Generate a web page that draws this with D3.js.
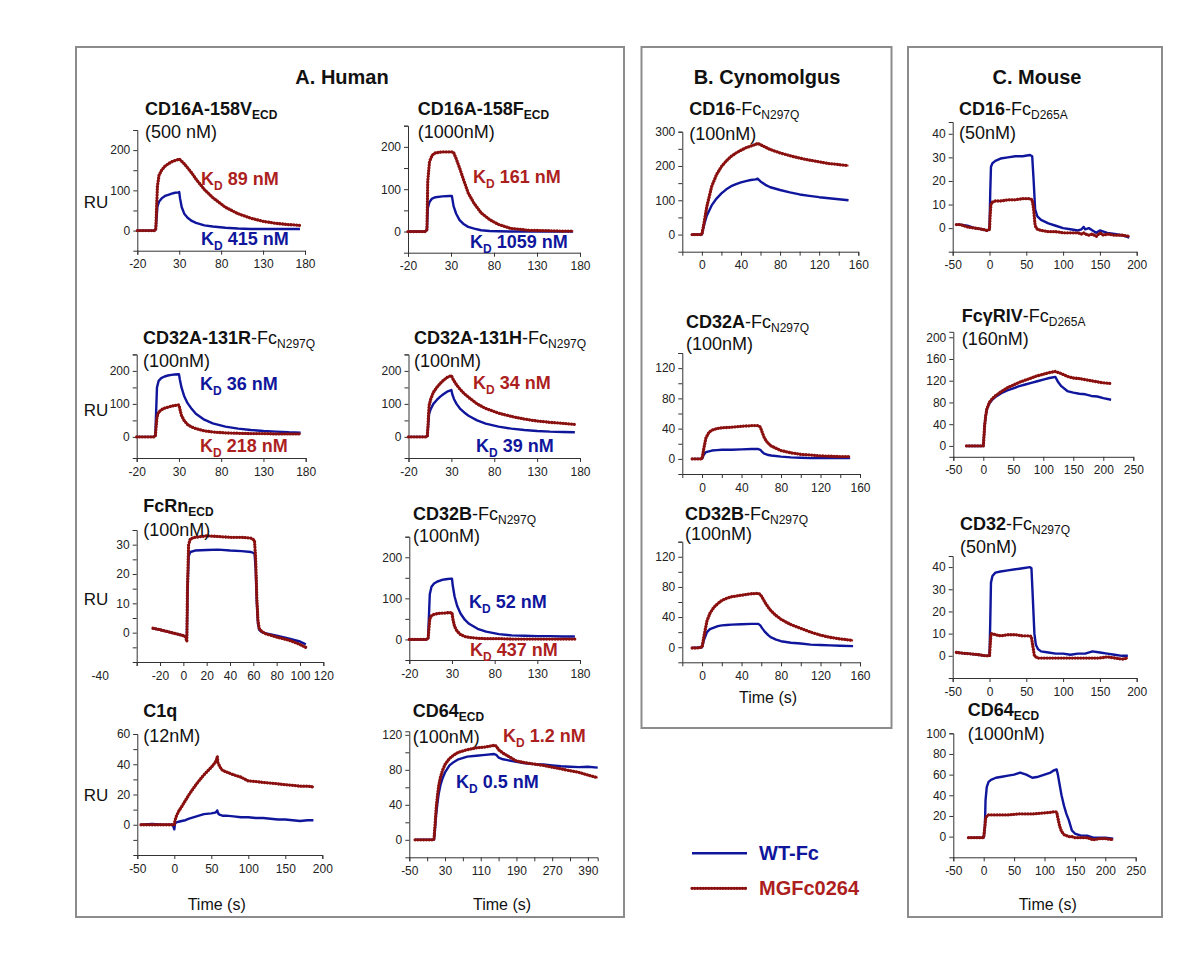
<!DOCTYPE html>
<html><head><meta charset="utf-8">
<script src="https://cdn.jsdelivr.net/npm/d3@7"></script>
<style>
body{margin:0;background:#fff;}
svg text{font-family:'Liberation Sans',Arial,Helvetica,sans-serif;}
</style>
</head><body>
<svg id="c" width="1200" height="960"></svg>
<script>
// ---------------- DATA (time in s, response in RU) ----------------
// A. Human
const tA1 = [-20,-10,0,2,4,6,9,13,17,21,25,29,30,31,33,36,40,45,50,60,70,85,100,115,130,145,160,174];
const wtA1 = [0,0,0,2,60,72,80,86,89,92,94,95,96,80,58,42,32,24,19,13,10,7,5,4,4,4,4,4];
const mgA1 = [0,0,0,2,110,138,150,160,166,171,174,177,178,176,172,166,156,143,128,102,82,58,42,31,23,18,15,13];

const tA2 = [-20,-10,0,2,3,5,8,12,20,28,31,33,36,40,45,50,57,65,75,85,100,120,140,160,172];
const wtA2 = [0,0,0,3,55,70,78,81,83,84,84,60,42,27,17,11,7,3,1.4,0.8,0,0,0,0,0];
const mgA2 = [0,0,0,5,120,165,180,186,188,188,188,187,172,150,120,91,66,44,28,17,7,3,2,1,1];

const tA3 = [-20,-10,0,2,4,6,9,13,17,21,25,29,30,31,33,36,40,45,50,60,70,85,100,115,130,145,160,174];
const wtA3 = [0,0,0,3,150,170,178,183,186,188,189,190,190,175,150,125,103,85,70,52,41,31,25,21,18,16,14,13];
const mgA3 = [0,0,0,2,60,75,82,87,90,93,95,97,97,85,65,50,38,30,25,18,15,12,11,10,10,9,9,9];

const tA4 = [-20,-10,0,2,4,6,9,13,17,21,25,29,30,31,33,36,40,45,50,60,70,85,100,115,130,145,160,174];
const wtA4 = [0,0,0,2,70,85,100,112,122,130,137,141,142,130,115,100,86,74,64,50,40,31,25,21,18,16,15,14];
const mgA4 = [0,0,0,2,95,115,135,150,162,172,180,185,186,180,170,158,145,131,120,100,86,72,62,54,48,44,41,38];

const tA5 = [-26,-20,-10,0,2,3,3.5,4.5,6,10,20,30,40,50,58,61,62,63,64,65,67,70,80,90,100,105];
const wtA5 = [1.5,1,0,-1,-1.5,-2,12,26,27.5,28,28.2,28.3,28,27.8,27.5,27,22,10,3,1,0.3,-0.2,-1,-2,-3,-4];
const mgA5 = [1.5,1,0,-1,-1.5,-3,15,30,32,32.5,33,32.8,32.5,32.5,32.2,31.5,25,12,4,1.5,0.5,-0.3,-1.5,-2.5,-4,-5];

const tA6 = [-20,-10,0,2,4,6,9,13,17,21,25,29,30,31,33,36,40,45,50,60,70,85,100,115,130,145,160,174];
const wtA6 = [0,0,0,3,110,128,136,141,144,146,147,148,148,130,105,82,63,48,38,26,19,13,10,9,8,8,7,7];
const mgA6 = [0,0,0,2,50,58,61,63,64,64,65,65,65,50,32,20,12,7,5,3,2,2,1,1,1,1,1,1];

const tA7 = [-45,-30,-15,-2,0,1,3,6,10,15,20,30,40,50,55,57,58,59,60,62,65,70,80,90,100,110,120,130,140,150,160,170,180,188];
const wtA7 = [0,0.5,0,0,-3,1,1.5,2,2.5,3,4,5.5,7,7.5,8,8.5,9.5,8,7,6.5,6,6,5.5,5,5,4.5,4.5,4,3.5,3.5,3,2.5,3,3];
const mgA7 = [0,0,0,0,0,3,6,9,12,16,20,27,33,38,41,43,45,41,40,38,36,35,33,31.5,29,28.5,28,27.5,27,26.5,26,25.5,25.5,25];

const tA8 = [-37,-20,0,5,6,8,10,13,16,20,25,30,40,50,60,80,100,120,140,145,150,160,170,190,210,230,250,270,290,310,330,350,372];
const wtA8 = [0,0,0,0,3,15,28,42,53,63,71,77,85,89,92,95,96,97,98,97,94,92,91,89,87.5,86.5,86,85,84,83.5,83,83.5,82.5];
const mgA8 = [0,0,0,0,5,20,35,50,62,72,80,86,93,97,100,103,105,106,108,107,103,99,96,90,88,86.5,85,83,81,79,77,74,71];

// B. Cynomolgus
const tB1 = [-10,-5,0,2,5,10,15,20,25,30,35,40,45,50,55,57,60,65,70,80,90,100,110,120,130,140,150];
const wtB1 = [0,0,0,25,55,85,105,120,132,141,147,152,156,159,161,163,155,145,138,130,123,117,113,109,106,103,100];
const mgB1 = [0,0,0,30,80,140,175,198,215,228,238,246,253,258,263,266,262,255,248,238,230,223,217,212,207,204,201];

const tB2 = [-10,-5,0,2,4,7,10,15,20,30,40,50,57,59,61,63,66,70,80,90,100,110,120,130,140,150];
const wtB2 = [0,0,0,6,9,10,11,11.5,12,12,12.5,13,13,12,9,7,5.5,4.5,3,2,1.5,1,1,1,1,1];
const mgB2 = [0,0,0,15,28,35,38,40,41,42,43,44,44,42,35,28,22,17,11,8,6,5,4,3.5,3,3];

const tB3 = [-10,-5,0,2,5,8,12,16,20,25,30,40,50,57,59,61,64,67,70,75,80,90,100,110,120,130,140,153];
const wtB3 = [-0.5,-0.5,0,10,20,24,26,28,29,29.5,30,30.5,31,31,29,25,20,16,13,10,8,6,5,3.5,3,2.5,2,1.5];
const mgB3 = [-1,-1,0,15,35,45,53,58,62,65,67,69,71,71.5,70,66,59,53,48,42,37,30,25,20,16,13,11,9];

// C. Mouse
const tC1 = [-45,-40,-30,-20,-10,-3,0,1,2,4,8,15,25,35,45,55,58,60,62,65,70,80,90,100,110,120,125,128,130,135,140,145,150,155,160,170,180,190];
const wtC1 = [1.5,1.5,1,0,-0.5,-1,-0.5,15,26,27.5,28.5,29.5,30,30.5,30.5,31,30.5,20,8,5,3.5,2,1,0,-0.5,-1,-0.5,0.5,-0.5,0,-1,-2,-1,-1.5,-2,-2.5,-3,-4];
const mgC1 = [1.5,1.5,0.5,0,-0.5,-1,-0.5,6,10,11,11.5,11.5,12,12,12.5,12.5,12,8,1,-0.5,-1,-1.5,-1.5,-2,-2,-2,-2.5,-2,-2.5,-3,-2.5,-3.5,-2,-3,-2.5,-3,-3,-3.5];

const tC2 = [-28,-15,-2,0,1,2,4,6,10,15,20,30,40,50,60,70,80,90,100,110,115,120,125,130,140,150,160,170,180,190,200,213];
const wtC2 = [0,0,0,0,15,35,55,68,78,85,90,97,102,106,110,113,116,119,122,125,126,127,117,110,101,98,96,95,92,91,88,85];
const mgC2 = [0,0,0,0,15,35,55,68,80,87,92,100,107,112,117,121,125,129,132,135,136,137,135,133,128,125,124,122,120,118,116,115];

const tC3 = [-45,-30,-15,-5,0,1,2,4,8,15,25,35,45,55,57,59,61,63,66,70,80,90,100,110,120,130,140,150,160,170,180,188];
const wtC3 = [1.5,1,0.5,0,0,15,33,36,37.5,38,38.5,39,39.5,40,39.5,25,10,5,3,2,1.5,1,1,0.5,1,1,2,1.5,1,0.5,0,0];
const mgC3 = [1.5,1,0.5,0,0,5,10,10,9.5,9,9.5,9.5,9,9,8.5,4,0,-0.5,-1,-1,-1,-1,-1,-1,-1,-1,-1,-1,-0.5,-1,-1.5,-1];

const tC4 = [-25,-10,0,2,3,5,8,12,20,30,40,50,60,70,80,90,100,110,115,120,122,125,128,132,136,140,145,150,160,170,180,190,200,213];
const wtC4 = [-1,-1,-1,10,35,48,53,55,57,58,59,60,62,60,57,58,60,62,64,65,60,50,40,30,22,16,6,3,1,1,-1,-1,-1,-2];
const mgC4 = [-1,-1,-1,10,17,20,21,21,21,21,21,21.5,22,22,22,22.5,23,23.5,24,24,18,10,5,2,1,0,0,-1,-1,-1,-3,-2,-2,-3];

// ---------------- TICKS / LABELS ----------------
const xTicksA = [-20,30,80,130,180];
const xLabA = ['-20','30','80','130','180'];
const yTicksA = [0,50,100,150,200,250];
const yLabA = ['0','','100','','200',''];
const xTicksFcRn = [-40,-20,0,20,40,60,80,100,120];
const xLabFcRn = ['-40','-20','0','20','40','60','80','100','120'];
const yTicksFcRn = [-5,0,5,10,15,20,25,30,35];
const yLabFcRn = ['','0','','10','','20','','30',''];
const xTicksC1q = [-50,0,50,100,150,200];
const xLabC1q = ['-50','0','50','100','150','200'];
const yTicksC1q = [-10,0,10,20,30,40,50,60];
const yLabC1q = ['','0','','20','','40','','60'];
const xTicksCD64 = [-50,-10,30,70,110,150,190,230,270,310,350];
const xLabCD64 = ['-50','','30','','110','','190','','270','','390'];
const yTicksCD64 = [0,20,40,60,80,100,120];
const yLabCD64 = ['0','','40','','80','','120'];
const xTicksB = [0,20,40,60,80,100,120,140,160];
const xLabB = ['0','','40','','80','','120','','160'];
const yTicksB1 = [0,50,100,150,200,250,300];
const yLabB1 = ['0','','100','','200','','300'];
const yTicksB23 = [0,20,40,60,80,100,120,140];
const yLabB23 = ['0','','40','','80','','120',''];
const xTicksC200 = [-50,0,50,100,150,200];
const xLabC200 = ['-50','0','50','100','150','200'];
const xTicksC250 = [-50,0,50,100,150,200,250];
const xLabC250 = ['-50','0','50','100','150','200','250'];
const yTicksC40 = [0,10,20,30,40];
const yLabC40 = ['0','10','20','30','40'];
const yTicksC200 = [0,40,80,120,160,200];
const yLabC200 = ['0','40','80','120','160','200'];
const yTicksC100 = [0,20,40,60,80,100];
const yLabC100 = ['0','20','40','60','80','100'];

const seriesNames = ['WT-Fc','MGFc0264'];
const sectionTitles = ['A. Human','B. Cynomolgus','C. Mouse'];

// ---------------- STYLE ----------------
const BLUE = '#10169c';
const RED = '#ad1f1f';
const REDDOT = '#8a1010';
const svg = d3.select('#c');

[[76,47,548,870],[641.5,47,250,681],[908,47,254,870]].forEach(b=>{
  svg.append('rect').attr('x',b[0]).attr('y',b[1]).attr('width',b[2]).attr('height',b[3])
    .attr('fill','none').attr('stroke','#8c8c8c').attr('stroke-width',2);
});
[[342,sectionTitles[0]],[767,sectionTitles[1]],[1037,sectionTitles[2]]].forEach(s=>{
  svg.append('text').attr('x',s[0]).attr('y',84).attr('text-anchor','middle')
    .attr('font-size',20).attr('font-weight','bold').attr('fill','#111').text(s[1]);
});

function rich(x,y,parts,size,color){
  const t = svg.append('text').attr('x',x).attr('y',y).attr('font-size',size).attr('fill',color);
  let shift = 0;
  parts.forEach(p=>{
    const ts = t.append('tspan').text(p.t).attr('font-weight',p.b?'bold':'normal');
    if(p.sub){ ts.attr('dy',p.dy||4).attr('font-size',p.fs||12); shift = p.dy||4; }
    else if(shift){ ts.attr('dy',-shift); shift = 0; }
  });
  return t;
}
function kd(x,y,val,color){
  rich(x,y,[{t:'K',b:true},{t:'D',b:true,sub:true,dy:5,fs:12},{t:' '+val,b:true}],18,color);
}

const panels = [
 {t:tA1,wt:wtA1,mg:mgA1,x0:137.3,x1:305,yB:250.7,yT:130,xd:[-20,180],yd:[-50,250],xt:xTicksA,xl:xLabA,yt:yTicksA,yl:yLabA,
  title:[{t:'CD16A-158V',b:true},{t:'ECD',b:true,sub:true}],sub:'(500 nM)',tx:145,ty:115,sy:138,ru:[96,208],
  kd:[[201,185,'89 nM',RED],[201,245,'415 nM',BLUE]]},
 {t:tA2,wt:wtA2,mg:mgA2,x0:408,x1:580,yB:252.7,yT:125.7,xd:[-20,180],yd:[-50,250],xt:xTicksA,xl:xLabA,yt:yTicksA,yl:yLabA,
  title:[{t:'CD16A-158F',b:true},{t:'ECD',b:true,sub:true}],sub:'(1000nM)',tx:417.7,ty:115,sy:138,
  kd:[[473,183,'161 nM',RED],[470,248,'1059 nM',BLUE]]},
 {t:tA3,wt:wtA3,mg:mgA3,x0:136.7,x1:305.7,yB:458,yT:354.4,xd:[-20,180],yd:[-64,250],xt:xTicksA,xl:xLabA,yt:yTicksA,yl:yLabA,
  title:[{t:'CD32A-131R',b:true},{t:'-Fc'},{t:'N297Q',sub:true}],sub:'(100nM)',tx:143,ty:344,sy:367,ru:[96,416],
  kd:[[200,390,'36 nM',BLUE],[200,452,'218 nM',RED]]},
 {t:tA4,wt:wtA4,mg:mgA4,x0:408.5,x1:580,yB:458,yT:354.4,xd:[-20,180],yd:[-64,250],xt:xTicksA,xl:xLabA,yt:yTicksA,yl:yLabA,
  title:[{t:'CD32A-131H',b:true},{t:'-Fc'},{t:'N297Q',sub:true}],sub:'(100nM)',tx:414,ty:344,sy:367,
  kd:[[473,389,'34 nM',RED],[476,452,'39 nM',BLUE]]},
 {t:tA5,wt:wtA5,mg:mgA5,x0:136.7,x1:323.3,yB:662,yT:530,xd:[-40,120],yd:[-10,35],xt:xTicksFcRn,xl:xLabFcRn,yt:yTicksFcRn,yl:yLabFcRn,
  xlShift:[-37,0,0,0,0,0,0,0,0],
  title:[{t:'FcRn',b:true},{t:'ECD',b:true,sub:true}],sub:'(100nM)',tx:143.3,ty:512,sy:536,ru:[96,605],kd:[]},
 {t:tA6,wt:wtA6,mg:mgA6,x0:409.3,x1:580,yB:660,yT:536.7,xd:[-20,180],yd:[-50,250],xt:xTicksA,xl:xLabA,yt:yTicksA,yl:yLabA,
  title:[{t:'CD32B',b:true},{t:'-Fc'},{t:'N297Q',sub:true}],sub:'(100nM)',tx:413,ty:520,sy:542,
  kd:[[469,608,'52 nM',BLUE],[470,656,'437 nM',RED]]},
 {t:tA7,wt:wtA7,mg:mgA7,x0:137.3,x1:322.3,yB:855,yT:734,xd:[-50,200],yd:[-20,60],xt:xTicksC1q,xl:xLabC1q,yt:yTicksC1q,yl:yLabC1q,
  title:[{t:'C1q',b:true}],sub:'(12nM)',tx:143.3,ty:717,sy:742,ru:[96,801],kd:[]},
 {t:tA8,wt:wtA8,mg:mgA8,x0:409.3,x1:597.7,yB:857.3,yT:731.3,xd:[-50,372],yd:[-20,124],xt:xTicksCD64,xl:xLabCD64,yt:yTicksCD64,yl:yLabCD64,
  title:[{t:'CD64',b:true},{t:'ECD',b:true,sub:true}],sub:'(100nM)',tx:412.7,ty:717,sy:743,
  kd:[[503,742,'1.2 nM',RED],[456,788,'0.5 nM',BLUE]]},
 {t:tB1,wt:wtB1,mg:mgB1,x0:682.3,x1:858.3,yB:251.7,yT:131.7,xd:[-20,160],yd:[-50,300],xt:xTicksB,xl:xLabB,yt:yTicksB1,yl:yLabB1,
  title:[{t:'CD16',b:true},{t:'-Fc'},{t:'N297Q',sub:true}],sub:'(100nM)',tx:689.3,ty:115,sy:140,kd:[]},
 {t:tB2,wt:wtB2,mg:mgB2,x0:682.3,x1:860,yB:474,yT:353,xd:[-20,160],yd:[-20,140],xt:xTicksB,xl:xLabB,yt:yTicksB23,yl:yLabB23,
  title:[{t:'CD32A',b:true},{t:'-Fc'},{t:'N297Q',sub:true}],sub:'(100nM)',tx:686,ty:328,sy:350,kd:[]},
 {t:tB3,wt:wtB3,mg:mgB3,x0:682.3,x1:860,yB:662.3,yT:541.7,xd:[-20,160],yd:[-20,140],xt:xTicksB,xl:xLabB,yt:yTicksB23,yl:yLabB23,
  title:[{t:'CD32B',b:true},{t:'-Fc'},{t:'N297Q',sub:true}],sub:'(100nM)',tx:685,ty:520,sy:540,kd:[]},
 {t:tC1,wt:wtC1,mg:mgC1,x0:952.7,x1:1136.7,yB:251.7,yT:122,xd:[-50,200],yd:[-10,45],xt:xTicksC200,xl:xLabC200,yt:yTicksC40,yl:yLabC40,
  title:[{t:'CD16',b:true},{t:'-Fc'},{t:'D265A',sub:true}],sub:'(50nM)',tx:959,ty:115,sy:139,kd:[]},
 {t:tC2,wt:wtC2,mg:mgC2,x0:953.3,x1:1133.3,yB:456.8,yT:331.8,xd:[-50,250],yd:[-20,210],xt:xTicksC250,xl:xLabC250,yt:yTicksC200,yl:yLabC200,
  title:[{t:'FcγRIV',b:true},{t:'-Fc'},{t:'D265A',sub:true}],sub:'(160nM)',tx:961.7,ty:322,sy:345,kd:[]},
 {t:tC3,wt:wtC3,mg:mgC3,x0:952.7,x1:1136.7,yB:678,yT:556,xd:[-50,200],yd:[-10,45],xt:xTicksC200,xl:xLabC200,yt:yTicksC40,yl:yLabC40,
  title:[{t:'CD32',b:true},{t:'-Fc'},{t:'N297Q',sub:true}],sub:'(50nM)',tx:960,ty:530,sy:553,kd:[]},
 {t:tC4,wt:wtC4,mg:mgC4,x0:953.3,x1:1135.7,yB:857.3,yT:733.3,xd:[-50,250],yd:[-20,100],xt:xTicksC250,xl:xLabC250,yt:yTicksC100,yl:yLabC100,
  title:[{t:'CD64',b:true},{t:'ECD',b:true,sub:true}],sub:'(1000nM)',tx:967.7,ty:716,sy:740,kd:[]}
];

function styleAxis(g){
  g.attr('font-family',"'Liberation Sans',Arial,Helvetica,sans-serif").attr('font-size',12);
  g.select('.domain').attr('stroke','#333').attr('stroke-width',1);
  g.selectAll('.tick line').attr('stroke','#333');
  g.selectAll('.tick text').attr('fill','#222');
}

panels.forEach(p=>{
  const x = d3.scaleLinear().domain(p.xd).range([p.x0,p.x1]);
  const y = d3.scaleLinear().domain(p.yd).range([p.yB,p.yT]);
  const gx = svg.append('g').attr('transform',`translate(0,${p.yB})`)
    .call(d3.axisBottom(x).tickValues(p.xt).tickFormat((d,i)=>p.xl[i]).tickSizeOuter(0).tickSize(4).tickPadding(5));
  styleAxis(gx);
  if(p.xlShift) gx.selectAll('.tick text').attr('dx',(d,i)=>p.xlShift[i]);
  const gy = svg.append('g').attr('transform',`translate(${p.x0},0)`)
    .call(d3.axisLeft(y).tickValues(p.yt).tickFormat((d,i)=>p.yl[i]).tickSizeOuter(0).tickSize(4).tickPadding(3));
  styleAxis(gy);

  const line = d3.line().x((d,i)=>x(p.t[i])).y(d=>y(d));
  svg.append('path').attr('d',line(p.wt)).attr('fill','none').attr('stroke',BLUE).attr('stroke-width',2.4).attr('stroke-linejoin','round');
  svg.append('path').attr('d',line(p.mg)).attr('fill','none').attr('stroke',RED).attr('stroke-width',1.9).attr('stroke-linejoin','round');
  svg.append('path').attr('d',line(p.mg)).attr('fill','none').attr('stroke',REDDOT).attr('stroke-width',3.3)
    .attr('stroke-linecap','round').attr('stroke-dasharray','0.01 2.8');

  rich(p.tx,p.ty,p.title,18,'#111');
  svg.append('text').attr('x',p.tx).attr('y',p.sy).attr('font-size',18).attr('fill','#111').text(p.sub);
  if(p.ru) svg.append('text').attr('x',p.ru[0]).attr('y',p.ru[1]).attr('text-anchor','middle').attr('font-size',17).attr('fill','#111').text('RU');
  p.kd.forEach(k=>kd(k[0],k[1],k[2],k[3]));
});

[[216.7,910],[502,910],[768,703],[1047.7,910]].forEach(tl=>{
  svg.append('text').attr('x',tl[0]).attr('y',tl[1]).attr('text-anchor','middle').attr('font-size',16).attr('fill','#111').text('Time (s)');
});

const lg = [[853.3,BLUE,seriesNames[0]],[888.3,RED,seriesNames[1]]];
const ls = d3.scaleLinear().domain([0,1]).range([692,747]);
lg.forEach((l,i)=>{
  const path = `M${ls(0)},${l[0]}H${ls(1)}`;
  svg.append('path').attr('d',path).attr('stroke',l[1]).attr('stroke-width',i?1.9:2.4);
  if(i===1) svg.append('path').attr('d',path).attr('stroke',REDDOT).attr('stroke-width',3.3).attr('stroke-linecap','round').attr('stroke-dasharray','0.01 2.8');
  svg.append('text').attr('x',759).attr('y',l[0]+7).attr('font-size',20).attr('font-weight','bold').attr('fill',l[1]).text(l[2]);
});
</script>
</body></html>
